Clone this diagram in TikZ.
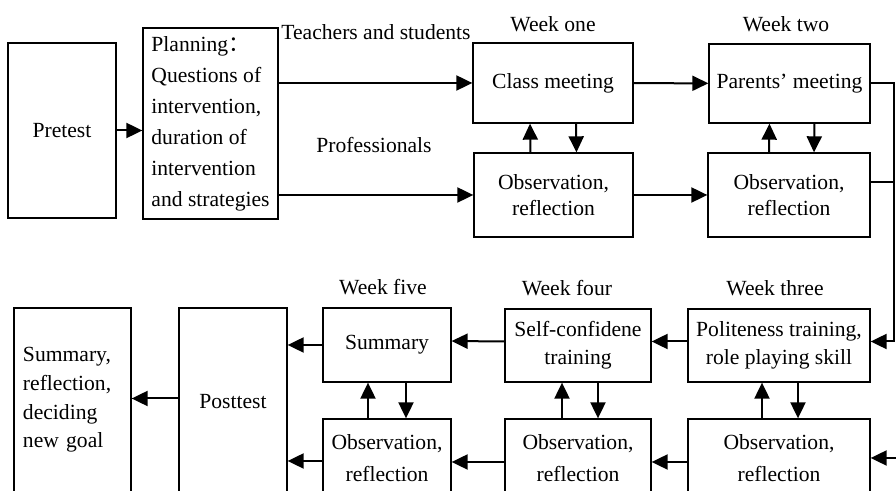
\documentclass[tikz,border=0pt]{standalone}
\usepackage{fontspec}
\setmainfont{Liberation Serif}
\newfontfamily\cjk{Noto Sans CJK SC}
\usetikzlibrary{arrows.meta,positioning,calc}
\newcommand{\fs}[1]{\fontsize{10.8}{#1}\selectfont}

\tikzset{
  box/.style={draw,line width=0.65pt,inner sep=0pt,align=center,font=\fs{13.3}},
  wk/.style={inner sep=0pt,font=\fs{12}},
  conn/.style={line width=1pt},
  arr/.style={line width=1pt,-{Triangle[length=8pt,width=7.5pt]}},
}

\begin{document}
\begin{tikzpicture}[x=0.5pt,y=-0.5pt]
    \path[clip] (0,0) rectangle (896,491);
    \fill[white] (0,0) rectangle (896,491);

    % first row
    \node[box,minimum width=54pt,minimum height=87.5pt] (pretest) at (62,130.5) {Pretest};
    \node[box,align=left,font=\fs{15.5},minimum width=67.5pt,minimum height=95.5pt] (plan) at (210.5,123.5)
      {Planning{\cjk ：}\\Questions of\\intervention,\\duration of\\intervention\\and strategies};
    \node[box,minimum width=80pt,minimum height=40pt] (class) at (553,83) {Class meeting};
    \node[box,minimum width=79.5pt,minimum height=42pt] (obsA) at (553.5,195) {Observation,\\reflection};
    \node[box,minimum width=80.5pt,minimum height=39.5pt] (parents) at (789.5,83.5) {Parents’ meeting};
    \node[box,minimum width=81pt,minimum height=42pt] (obsB) at (789,195) {Observation,\\reflection};

    \node[wk] (wone) at (553,24) {Week one};
    \node[wk] (wtwo) at (786,24) {Week two};
    \node[wk] (tas) at (376,32) {Teachers and students};
    \node[wk] (prof) at (374,145) {Professionals};

    % second row
    \node[box,font=\fs{14.2},minimum width=91pt,minimum height=36.5pt] (polite) at (779,345.5) {Politeness training,\\role playing skill};
    \node[box,font=\fs{16.3},minimum width=91pt,minimum height=39pt] (obsC) at (779,458) {Observation,\\reflection};
    \node[box,font=\fs{14.2},minimum width=73pt,minimum height=36.5pt] (self) at (578,345.5) {Self-confidene\\training};
    \node[box,font=\fs{16.3},minimum width=73pt,minimum height=39pt] (obsD) at (578,458) {Observation,\\reflection};
    \node[box,minimum width=64pt,minimum height=37pt] (summary) at (387,345) {Summary};
    \node[box,font=\fs{16.3},minimum width=64pt,minimum height=39pt] (obsE) at (387,458) {Observation,\\reflection};
    \node[box,minimum width=54pt,minimum height=93.5pt] (posttest) at (233,401.5) {Posttest};
    \node[box,align=left,font=\fs{14.3},text width=49.5pt,inner xsep=4.5pt,minimum height=92pt] (final) at (72.5,400)
      {Summary,\\reflection,\\deciding\\new goal};

    \node[wk] (wthree) at (775,288) {Week three};
    \node[wk] (wfour) at (567,288) {Week four};
    \node[wk] (wfive) at (383,287) {Week five};

    \coordinate (rail) at (894,0);
    \coordinate (offpage) at (910,458);

    % connectors, top
    \draw[arr] (pretest.east) -- (pretest.east -| plan.west);
    \draw[arr] (plan.east |- class.west) -- (class.west);
    \draw[arr] (plan.east |- obsA.west) -- (obsA.west);
    \draw[arr] (class) -- (parents);
    \draw[arr] (obsA) -- (obsB);
    \draw[arr] ([xshift=-11.5pt]obsA.north) -- ([xshift=-11.5pt]class.south);
    \draw[arr] ([xshift=11.5pt]class.south) -- ([xshift=11.5pt]obsA.north);
    \draw[arr] ([xshift=-10pt]obsB.north) -- ([xshift=-10pt]parents.south);
    \draw[arr] ([xshift=12.5pt]parents.south) -- ([xshift=12.5pt]obsB.north);
    \draw[arr] (parents.east) -| ([yshift=2pt]rail |- polite.east) -- ([yshift=2pt]polite.east);
    \draw[conn] ([yshift=6.5pt]obsB.east) -- ([yshift=6.5pt]obsB.east -| rail);

    % connectors, bottom
    \draw[arr] (offpage) -- (obsC.east);
    \draw[arr] ([yshift=2pt]polite.west) -- ([yshift=2pt]self.east);
    \draw[arr] ([yshift=-2pt]obsC.west) -- ([yshift=-2pt]obsD.east);
    \draw[arr] ([yshift=2pt]self.west) -- ([yshift=2pt]summary.east);
    \draw[arr] ([yshift=-2pt]obsD.west) -- ([yshift=-2pt]obsE.east);
    \draw[arr] (summary.west) -- (summary.west -| posttest.east);
    \draw[arr] ([yshift=-1.5pt]obsE.west) -- ([yshift=-1.5pt]obsE.west -| posttest.east);
    \draw[arr] ([yshift=1.5pt]posttest.west) -- ([yshift=1.5pt]posttest.west -| final.east);
    \draw[arr] ([xshift=-8.5pt]obsC.north) -- ([xshift=-8.5pt]polite.south);
    \draw[arr] ([xshift=9.5pt]polite.south) -- ([xshift=9.5pt]obsC.north);
    \draw[arr] ([xshift=-8pt]obsD.north) -- ([xshift=-8pt]self.south);
    \draw[arr] ([xshift=10pt]self.south) -- ([xshift=10pt]obsD.north);
    \draw[arr] ([xshift=-9.5pt]obsE.north) -- ([xshift=-9.5pt]summary.south);
    \draw[arr] ([xshift=9.5pt]summary.south) -- ([xshift=9.5pt]obsE.north);
\end{tikzpicture}
\end{document}
